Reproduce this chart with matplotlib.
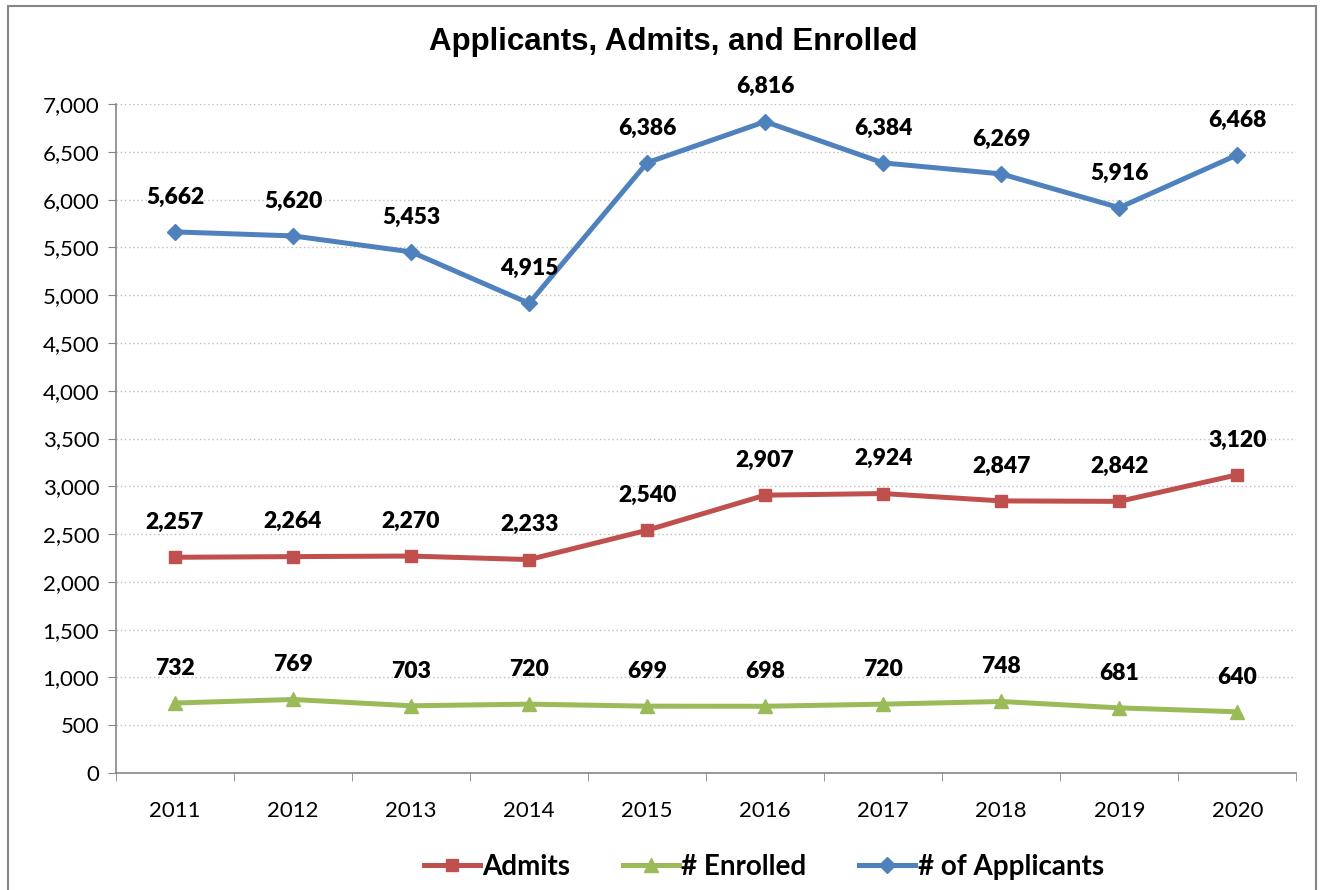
import matplotlib.pyplot as plt
from matplotlib.patches import Rectangle
from matplotlib.ticker import FuncFormatter

years = ['2011', '2012', '2013', '2014', '2015', '2016', '2017', '2018', '2019', '2020']
applicants = [5662, 5620, 5453, 4915, 6386, 6816, 6384, 6269, 5916, 6468]
admits = [2257, 2264, 2270, 2233, 2540, 2907, 2924, 2847, 2842, 3120]
enrolled = [732, 769, 703, 720, 699, 698, 720, 748, 681, 640]

plt.rcParams['font.family'] = ['Lato', 'DejaVu Sans']

fig = plt.figure(figsize=(13.21, 8.90), dpi=100)
ax = fig.add_axes([0.0878, 0.1315, 0.8935, 0.7516])

x = list(range(len(years)))
series = [
    ('Admits', admits, '#C0504D', 's', 9),
    ('# Enrolled', enrolled, '#9BBB59', '^', 10),
    ('# of Applicants', applicants, '#4F81BD', 'D', 8),
]
for name, vals, col, mk, ms in series:
    ax.plot(x, vals, color=col, lw=3.6, marker=mk, ms=ms, label=name, zorder=3)
    for xi, v in zip(x, vals):
        ax.annotate(f'{v:,}', (xi, v), xytext=(0, 25), textcoords='offset points',
                    ha='center', va='center', fontsize=16.5, fontweight='heavy')

ax.set_xlim(-0.5, len(years) - 0.5)
ax.set_ylim(0, 7000)
ax.set_yticks(range(0, 7001, 500))
ax.yaxis.set_major_formatter(FuncFormatter(lambda v, p: f'{int(v):,}'))
ax.set_xticks(x)
ax.set_xticklabels(years)
ax.set_xticks([i - 0.5 for i in range(len(years) + 1)], minor=True)
ax.tick_params(axis='x', which='major', length=0, pad=20, labelsize=16)
ax.tick_params(axis='x', which='minor', length=6, color='#868686', direction='out')
ax.tick_params(axis='y', length=6, color='#868686', labelsize=16, pad=6)

ax.grid(axis='y', color='#BFBFBF', ls=(0, (1, 2)), lw=1)
for s in ['top', 'right']:
    ax.spines[s].set_visible(False)
for s in ['left', 'bottom']:
    ax.spines[s].set_color('#868686')
    ax.spines[s].set_linewidth(1.2)

fig.text(0.51, 0.953, 'Applicants, Admits, and Enrolled', ha='center', va='center',
         fontsize=22.5, fontweight='bold', family=['Liberation Sans', 'DejaVu Sans'])

ax.legend(loc='center', bbox_to_anchor=(0.549, -0.14), ncol=3, frameon=False,
          prop={'size': 20, 'weight': 'bold'}, handlelength=2.0, handletextpad=0.1,
          columnspacing=1.9)

fig.patches.append(Rectangle((0.006, -0.01), 0.99, 1.003, transform=fig.transFigure,
                             fill=False, ec='#868686', lw=1.5))

fig.savefig('out.png', dpi=100)
